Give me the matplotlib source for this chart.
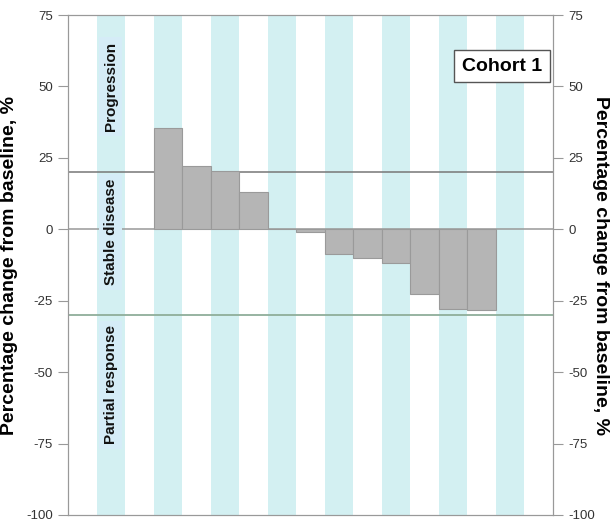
import matplotlib.pyplot as plt

# Best change in tumour size per patient (%), sorted
changes = [35.4, 22.3, 20.4, 13.2, 0.0, -1.0, -8.5, -9.9, -11.8, -22.8, -27.8, -28.4]
first_slot = 3
n_slots = 17

progression_cut = 20
response_cut = -30

zone_labels = ["Progression", "Stable disease", "Partial response"]
zone_centers = [50, -1, -54.5]
yticks = [75, 50, 25, 0, -25, -50, -75, -100]


def main():
    plt.rcParams["font.family"] = ["Liberation Sans", "DejaVu Sans"]
    plt.rcParams["axes.unicode_minus"] = False

    fig = plt.figure(figsize=(6.14, 5.27), dpi=100)
    ax = fig.add_axes([0.1107, 0.0228, 0.79, 0.9487])

    # alternating cyan stripes
    for s in range(1, n_slots, 2):
        ax.axvspan(s, s + 1, color="#d3f0f2", lw=0, zorder=0)

    # threshold lines
    ax.axhline(progression_cut, color="#777777", lw=1.1, zorder=1)
    ax.axhline(0, color="#999999", lw=1.1, zorder=1)
    ax.axhline(response_cut, color="#8fae9a", lw=1.3, zorder=1)

    xs = [first_slot + i + 0.5 for i in range(len(changes))]
    ax.bar(xs, changes, width=1.0, color="#b5b5b5", edgecolor="#9a9a9a", lw=0.8, zorder=2)

    ax.set_xlim(0, n_slots)
    ax.set_ylim(-100, 75)
    ax.set_xticks([])
    ax.set_yticks(yticks)
    ax.tick_params(axis="y", direction="out", length=7, color="#999999",
                   labelsize=9.5, labelcolor="#333333", pad=4)
    for sp in ax.spines.values():
        sp.set_color("#999999")
    ax.set_ylabel("Percentage change from baseline, %", fontsize=14,
                  fontweight="bold")
    ax.yaxis.set_label_coords(-0.103, 0.5)

    # zone labels in the first stripe
    for lab, yc in zip(zone_labels, zone_centers):
        ax.text(1.5, yc, lab, rotation=90, ha="center", va="center",
                fontsize=11, fontweight="bold", color="#111111", zorder=3,
                bbox=dict(boxstyle="square,pad=0.3", fc="#d5ecf7", ec="none"))

    ax.text(0.895, 0.898, "Cohort 1", transform=ax.transAxes, ha="center",
            va="center", fontsize=14, fontweight="bold", zorder=4,
            bbox=dict(boxstyle="square,pad=0.4", fc="white", ec="#555555", lw=1))

    ax2 = ax.twinx()
    ax2.set_ylim(-100, 75)
    ax2.set_yticks(yticks)
    ax2.tick_params(axis="y", direction="out", length=7, color="#999999",
                    labelsize=9.5, labelcolor="#333333", pad=4)
    for sp in ax2.spines.values():
        sp.set_color("#999999")
    ax2.set_ylabel("Percentage change from baseline, %", fontsize=14,
                   fontweight="bold", rotation=-90, va="center")
    ax2.yaxis.set_label_coords(1.097, 0.5)

    fig.savefig("out.png", dpi=100)


if __name__ == "__main__":
    main()
